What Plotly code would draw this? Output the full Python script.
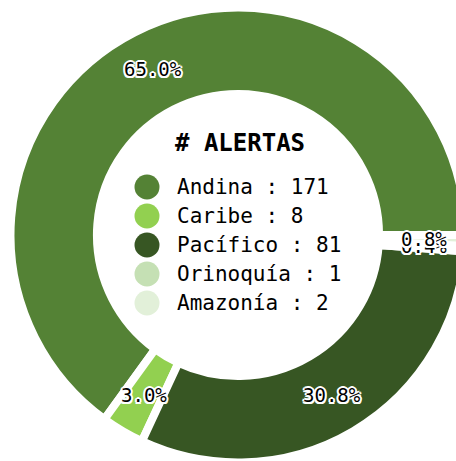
import math
import plotly.graph_objects as go

# Alert counts by natural region
regiones = ["Andina", "Caribe", "Pacífico", "Orinoquía", "Amazonía"]
alertas = [171, 8, 81, 1, 2]
colores = ["#548235", "#92D050", "#375623", "#C5E0B4", "#E2F0D9"]
titulo_leyenda = "# ALERTAS"

MONO = "DejaVu Sans Mono"
HALO = ("2px 0 0 #fff, -2px 0 0 #fff, 0 2px 0 #fff, 0 -2px 0 #fff, "
        "1.5px 1.5px 0 #fff, -1.5px 1.5px 0 #fff, 1.5px -1.5px 0 #fff, -1.5px -1.5px 0 #fff")

# Canvas and ring geometry (px; y measured from the bottom)
FIG_W, FIG_H = 476, 463
CX, CY = 238, 228
R_OUT = 227.5
HOLE = 0.62
LABEL_R = 186

total = sum(alertas)

# Slices run counterclockwise starting at 3 o'clock. Plotly's `rotation`
# (clockwise from 12 o'clock) marks where the first slice begins when
# drawn clockwise, so shift it back by the first slice's sweep.
rotacion = 90 - 360 * alertas[0] / total

fig = go.Figure()

fig.add_trace(go.Pie(
    labels=regiones,
    values=alertas,
    sort=False,
    direction="counterclockwise",
    rotation=rotacion,
    hole=HOLE,
    marker=dict(colors=colores, line=dict(color="white", width=8)),
    textinfo="none",
    hoverinfo="label+value+percent",
    showlegend=False,
    domain=dict(x=[0, 1], y=[(CY - R_OUT) / FIG_H, (CY + R_OUT) / FIG_H]),
))

# Percentage labels at each slice's mid angle
acum = 0
for reg, v in zip(regiones, alertas):
    mid = 2 * math.pi * (acum + v / 2) / total
    acum += v
    fig.add_annotation(
        x=CX + LABEL_R * math.cos(mid),
        y=CY + LABEL_R * math.sin(mid),
        xref="x", yref="y",
        text=f"{100 * v / total:.1f}%",
        showarrow=False,
        xanchor="center", yanchor="middle",
        font=dict(family=MONO, size=19, color="black", shadow=HALO),
    )

# Legend drawn inside the ring: coloured dots plus "region : count"
LEG_X, LEG_TOP, LEG_STEP = 147, FIG_H - 187, 29
filas_y = [LEG_TOP - i * LEG_STEP for i in range(len(regiones))]
fig.add_trace(go.Scatter(
    x=[LEG_X] * len(regiones),
    y=filas_y,
    mode="markers",
    marker=dict(size=25, color=colores),
    hoverinfo="skip",
    showlegend=False,
))
for reg, v, y in zip(regiones, alertas, filas_y):
    fig.add_annotation(
        x=LEG_X + 28, y=y, xref="x", yref="y",
        text=f"{reg} : {v}",
        showarrow=False,
        xanchor="left", yanchor="middle",
        font=dict(family=MONO, size=21, color="black"),
    )
fig.add_annotation(
    x=240, y=FIG_H - 142.5, xref="x", yref="y",
    text=f"<b>{titulo_leyenda}</b>",
    showarrow=False,
    xanchor="center", yanchor="middle",
    font=dict(family=MONO, size=24, color="black"),
)

fig.update_xaxes(range=[0, FIG_W], visible=False, fixedrange=True)
fig.update_yaxes(range=[0, FIG_H], visible=False, fixedrange=True)
fig.update_layout(
    width=FIG_W, height=FIG_H,
    margin=dict(l=0, r=0, t=0, b=0),
    paper_bgcolor="white",
    plot_bgcolor="rgba(0,0,0,0)",
    showlegend=False,
)

fig.write_html(
    "out.html",
    post_script="document.documentElement.style.overflow='hidden';"
                "document.body.style.overflow='hidden';",
)
